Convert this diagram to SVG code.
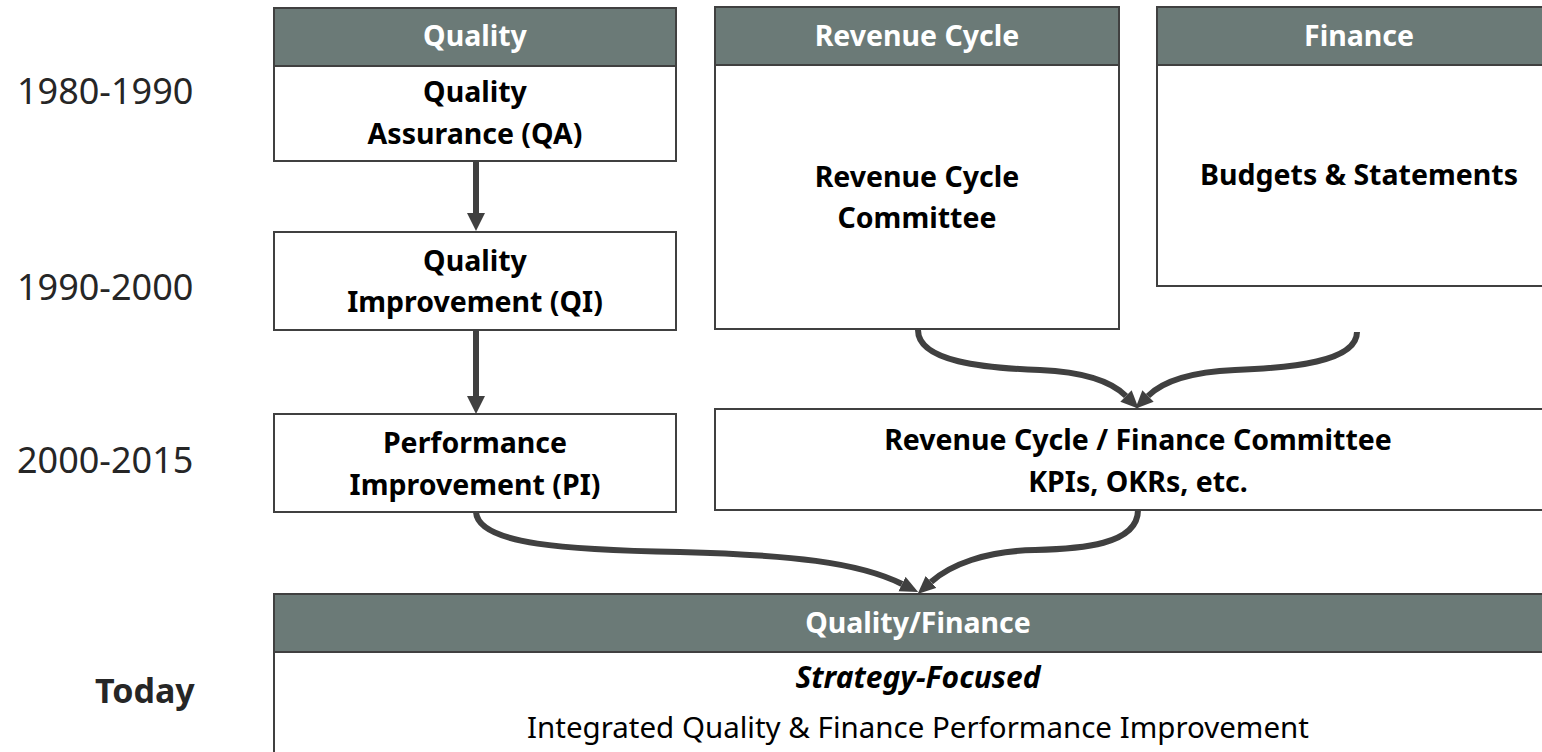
<svg xmlns="http://www.w3.org/2000/svg" width="1542" height="752" viewBox="0 0 1542 752">
<style>
.hdr{fill:#6b7a77;stroke:#404040;stroke-width:2}
.box{fill:#ffffff;stroke:#404040;stroke-width:2}
.ht{font-family:"Noto Sans","Open Sans",sans-serif;font-weight:bold;font-size:28.5px;fill:#ffffff;text-anchor:middle}
.bt{font-family:"Noto Sans","Open Sans",sans-serif;font-weight:bold;font-size:28.5px;fill:#000000;text-anchor:middle}
.it{font-family:"Noto Sans","Open Sans",sans-serif;font-weight:bold;font-style:italic;font-size:30px;fill:#000000;text-anchor:middle}
.rt{font-family:"Noto Sans","Open Sans",sans-serif;font-weight:normal;font-size:29.5px;fill:#000000;text-anchor:middle}
.yr{font-family:"Noto Sans","Open Sans",sans-serif;font-size:36px;fill:#262626}
.td{font-family:"Noto Sans","Open Sans",sans-serif;font-size:34px;font-weight:bold;fill:#262626}
.conn{fill:none;stroke:#404040;stroke-width:6}
.curve{fill:none;stroke:#404040;stroke-width:6}
</style>
<defs>
<marker id="ah" markerUnits="userSpaceOnUse" markerWidth="20" markerHeight="20" refX="0" refY="9" orient="auto">
<path d="M0,0 L18,9 L0,18 z" fill="#404040"/>
</marker>
<marker id="ahc" markerUnits="userSpaceOnUse" markerWidth="20" markerHeight="20" refX="0" refY="8" orient="auto">
<path d="M0,0 L18,8 L0,16 z" fill="#404040"/>
</marker>
</defs>
<rect width="1542" height="752" fill="#ffffff"/>

<g id="years">
<text class="yr" x="17" y="104">1980-1990</text>
<text class="yr" x="17" y="300">1990-2000</text>
<text class="yr" x="17" y="473">2000-2015</text>
<text class="td" x="95" y="703">Today</text>
</g>

<g id="quality">
<rect class="box" x="274" y="66" width="402" height="95"/>
<rect class="hdr" x="274" y="8" width="402" height="58"/>
<text class="ht" x="475" y="46">Quality</text>
<text class="bt" x="475" y="102">Quality</text>
<text class="bt" x="475" y="144">Assurance (QA)</text>
</g>

<g id="qi">
<rect class="box" x="274" y="232" width="402" height="98"/>
<text class="bt" x="475" y="271">Quality</text>
<text class="bt" x="475" y="312">Improvement (QI)</text>
</g>

<g id="pi">
<rect class="box" x="274" y="414" width="402" height="98"/>
<text class="bt" x="475" y="453">Performance</text>
<text class="bt" x="475" y="495">Improvement (PI)</text>
</g>

<g id="revenue-cycle">
<rect class="box" x="715" y="65" width="404" height="264"/>
<rect class="hdr" x="715" y="7" width="404" height="58"/>
<text class="ht" x="917" y="46">Revenue Cycle</text>
<text class="bt" x="917" y="187">Revenue Cycle</text>
<text class="bt" x="917" y="228">Committee</text>
</g>

<g id="finance">
<rect class="box" x="1157" y="65" width="404" height="221"/>
<rect class="hdr" x="1157" y="7" width="404" height="58"/>
<text class="ht" x="1359" y="46">Finance</text>
<text class="bt" x="1359" y="185">Budgets &amp; Statements</text>
</g>

<g id="rev-fin-committee">
<rect class="box" x="715" y="409" width="846" height="101"/>
<text class="bt" x="1138" y="450">Revenue Cycle / Finance Committee</text>
<text class="bt" x="1138" y="492">KPIs, OKRs, etc.</text>
</g>

<g id="quality-finance">
<rect class="box" x="274" y="652" width="1290" height="110"/>
<rect class="hdr" x="274" y="594" width="1290" height="58"/>
<text class="ht" x="918" y="633">Quality/Finance</text>
<text class="it" x="918" y="688">Strategy-Focused</text>
<text class="rt" x="918" y="738">Integrated Quality &amp; Finance Performance Improvement</text>
</g>

<g id="connectors">
<line class="conn" x1="476" y1="162" x2="476" y2="213" marker-end="url(#ah)"/>
<line class="conn" x1="476" y1="330" x2="476" y2="396" marker-end="url(#ah)"/>
<path class="curve" d="M918,330 C918,362 985,368 1040,370 C1085,372 1112,382 1126,396" marker-end="url(#ahc)"/>
<path class="curve" d="M1357,332 C1357,362 1290,368 1235,370 C1190,372 1162,382 1148,396" marker-end="url(#ahc)"/>
<path class="curve" d="M476,512 C478,545 570,550 680,552 C790,555 858,562 902,584" marker-end="url(#ahc)"/>
<path class="curve" d="M1138,510 C1138,545 1080,549 1035,550 C985,551 950,565 931,582" marker-end="url(#ahc)"/>
</g>
</svg>
